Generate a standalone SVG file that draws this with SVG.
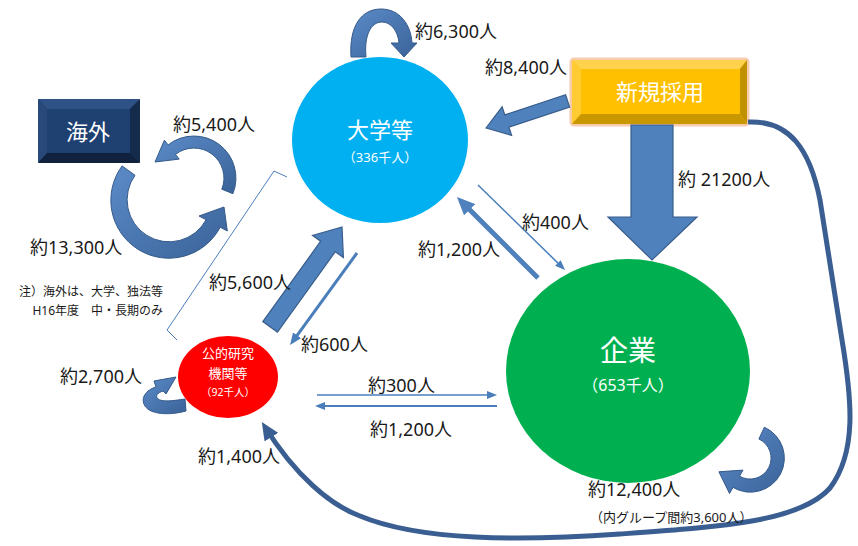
<svg xmlns="http://www.w3.org/2000/svg" width="858" height="546" viewBox="0 0 858 546">
<style>
.lbl{font-family:'Noto Sans','Noto Sans CJK JP',sans-serif;font-size:18px;fill:#1a1a1a}
.sub{font-family:'Noto Sans','Noto Sans CJK JP',sans-serif;font-size:13px;fill:#1a1a1a}
.note{font-family:'Noto Sans','Noto Sans CJK JP',sans-serif;font-size:12px;fill:#1a1a1a}
.wt{font-family:'Noto Sans','Noto Sans CJK JP',sans-serif;fill:#ffffff;text-anchor:middle}
.blk{fill:#4F81BD;stroke:#385D8A;stroke-width:1.2}
.crv{fill:url(#cg);stroke:#345A8A;stroke-width:1}
.thin{fill:none;stroke:#4A7EBB}
</style>
<defs>
<linearGradient id="cg" x1="0" y1="0" x2="1" y2="1">
<stop offset="0" stop-color="#5B8BC8"/>
<stop offset="1" stop-color="#3A6298"/>
</linearGradient>
<marker id="m1" markerUnits="userSpaceOnUse" markerWidth="10" markerHeight="8" refX="7" refY="4" orient="auto" viewBox="0 0 10 8"><path d="M0,0 L10,4 L0,8 z" fill="#4A7EBB"/></marker>
<marker id="m2" markerUnits="userSpaceOnUse" markerWidth="12" markerHeight="10" refX="8" refY="5" orient="auto" viewBox="0 0 12 10"><path d="M0,0 L12,5 L0,10 z" fill="#4A7EBB"/></marker>
<marker id="m3" markerUnits="userSpaceOnUse" markerWidth="18" markerHeight="16" refX="12" refY="8" orient="auto" viewBox="0 0 18 16"><path d="M0,0 L18,8 L0,16 z" fill="#4F81BD"/></marker>
<marker id="m4" markerUnits="userSpaceOnUse" markerWidth="18" markerHeight="16" refX="12" refY="8" orient="auto" viewBox="0 0 18 16"><path d="M0,0 L18,8 L0,16 z" fill="#3A5E91"/></marker>
</defs>
<rect width="858" height="546" fill="#ffffff"/>

<g id="univ">
<ellipse cx="380" cy="140" rx="88" ry="83" fill="#00B0F0"/>
<text class="wt" x="380" y="138" font-size="22">大学等</text>
<text class="wt" x="380" y="162" font-size="13">（336千人）</text>
</g>

<g id="company">
<ellipse cx="628" cy="371" rx="122" ry="112" fill="#00B050"/>
<text class="wt" x="628" y="361" font-size="28">企業</text>
<text class="wt" x="628" y="391" font-size="16">（653千人）</text>
</g>

<g id="public">
<ellipse cx="228" cy="377" rx="50" ry="41" fill="#FF0000"/>
<text class="wt" x="228" y="358" font-size="13">公的研究</text>
<text class="wt" x="228" y="378" font-size="13">機関等</text>
<text class="wt" x="228" y="396" font-size="10.5">（92千人）</text>
</g>

<g id="overseas">
<rect x="38" y="99" width="102" height="64" rx="2" fill="#1B365F"/>
<polygon points="38,99 140,99 130,109 47,109" fill="#2F5286"/>
<polygon points="38,99 47,109 47,153 38,163" fill="#28497A"/>
<polygon points="140,99 140,163 130,153 130,109" fill="#152B4C"/>
<polygon points="38,163 47,153 130,153 140,163" fill="#10223D"/>
<rect x="47" y="109" width="83" height="44" fill="#1F4172"/>
<text class="wt" x="88" y="140" font-size="22">海外</text>
</g>

<g id="newhire">
<rect x="571" y="59" width="177" height="66" rx="3" fill="#FFC000" stroke="#F8CBAD" stroke-width="3"/>
<polygon points="572,60 747,60 740,69 581,69" fill="#FFD24D"/>
<polygon points="572,60 581,69 581,114 572,124" fill="#FFCB33"/>
<polygon points="747,60 747,124 740,114 740,69" fill="#BF9000"/>
<polygon points="572,124 581,114 740,114 747,124" fill="#C99700"/>
<rect x="581" y="69" width="159" height="45" fill="#FFC000"/>
<text class="wt" x="660" y="100" font-size="22">新規採用</text>
</g>

<g id="connectors">
<path class="crv" d="M351,57 C349,25 362,9 381,9 C400,9 411,25 412,43 L417,43 L404,57 L391,43 L399,43 C398,31 391,22 382,22 C371,22 364,35 366,57 Z"/>
<g transform="translate(486,128) rotate(-18.4)"><polygon class="blk" points="0,0 22,-15 22,-6.5 86,-6.5 86,6.5 22,6.5 22,15"/></g>
<polygon class="blk" points="631,125 673,125 673,217 697,217 652,260 608,217 631,217"/>
<path class="crv" d="M232.9,193.7 A42,42 0 0,0 168.1,144.9 L164.4,140.2 L155,162 L179.2,159.1 L175.5,154.4 A30,30 0 0,1 221.8,189.2 Z"/>
<path class="crv" d="M122.1,165.9 A58,58 0 1,0 220.2,227.2 L227.3,231 L224,207 L199,216 L206.1,219.7 A42,42 0 1,1 135,175.3 Z"/>
<path d="M287,177 L274,171 L167,330 L177,340" fill="none" stroke="#4A7EBB" stroke-width="1"/>
<g transform="translate(342,227) rotate(125.75)"><polygon class="blk" points="0,0 24,-19 24,-9 123,-9 123,9 24,9 24,19"/></g>
<line class="thin" x1="357" y1="253" x2="292.4" y2="341.8" stroke-width="3" marker-end="url(#m2)"/>
<line x1="538" y1="278" x2="461.2" y2="201.2" stroke="#4F81BD" stroke-width="5" marker-end="url(#m3)"/>
<line class="thin" x1="478" y1="185" x2="562.9" y2="267.9" stroke-width="1.5" marker-end="url(#m1)"/>
<line class="thin" x1="317" y1="395" x2="494" y2="395" stroke-width="1.5" marker-end="url(#m1)"/>
<line class="thin" x1="497" y1="406" x2="318" y2="406" stroke-width="1.8" marker-end="url(#m1)"/>
<path class="crv" d="M185,399 L186,411 C168,416 150,414 145,406 C140,398 146,390 156,387 L154,381 L176,377 L166,394 L163,391 C157,393 155,396 158,399 C162,402 172,401 185,399 Z"/>
<path class="crv" d="M764.4,427.2 A34,34 0 1,1 733,487.4 L729.5,493.5 L718.9,471.8 L743,470.1 L739.5,476.2 A21,21 0 1,0 758.9,439 Z"/>
<path d="M748,122 C790,120 810,150 820,200 L842,340 C852,400 857,452 830,488 C800,522 720,527 620,534 C520,541 420,541 360,516 C330,505 295,475 265,427" fill="none" stroke="#3A5E91" stroke-width="5" marker-end="url(#m4)"/>
</g>

<g id="labels">
<text class="lbl" x="415" y="38">約6,300人</text>
<text class="lbl" x="485" y="74">約8,400人</text>
<text class="lbl" x="173" y="131">約5,400人</text>
<text class="lbl" x="30" y="254">約13,300人</text>
<text class="lbl" x="678" y="186">約 21200人</text>
<text class="lbl" x="522" y="229">約400人</text>
<text class="lbl" x="418" y="256">約1,200人</text>
<text class="lbl" x="209" y="289">約5,600人</text>
<text class="lbl" x="301" y="351">約600人</text>
<text class="lbl" x="60" y="383">約2,700人</text>
<text class="lbl" x="368" y="392">約300人</text>
<text class="lbl" x="370" y="436">約1,200人</text>
<text class="lbl" x="198" y="463">約1,400人</text>
<text class="lbl" x="588" y="496">約12,400人</text>
<text class="sub" x="590" y="522">（内グループ間約3,600人）</text>
<text class="note" x="163" y="296" text-anchor="end">注）海外は、大学、独法等</text>
<text class="note" x="163" y="315" text-anchor="end">H16年度　中・長期のみ</text>
</g>
</svg>
